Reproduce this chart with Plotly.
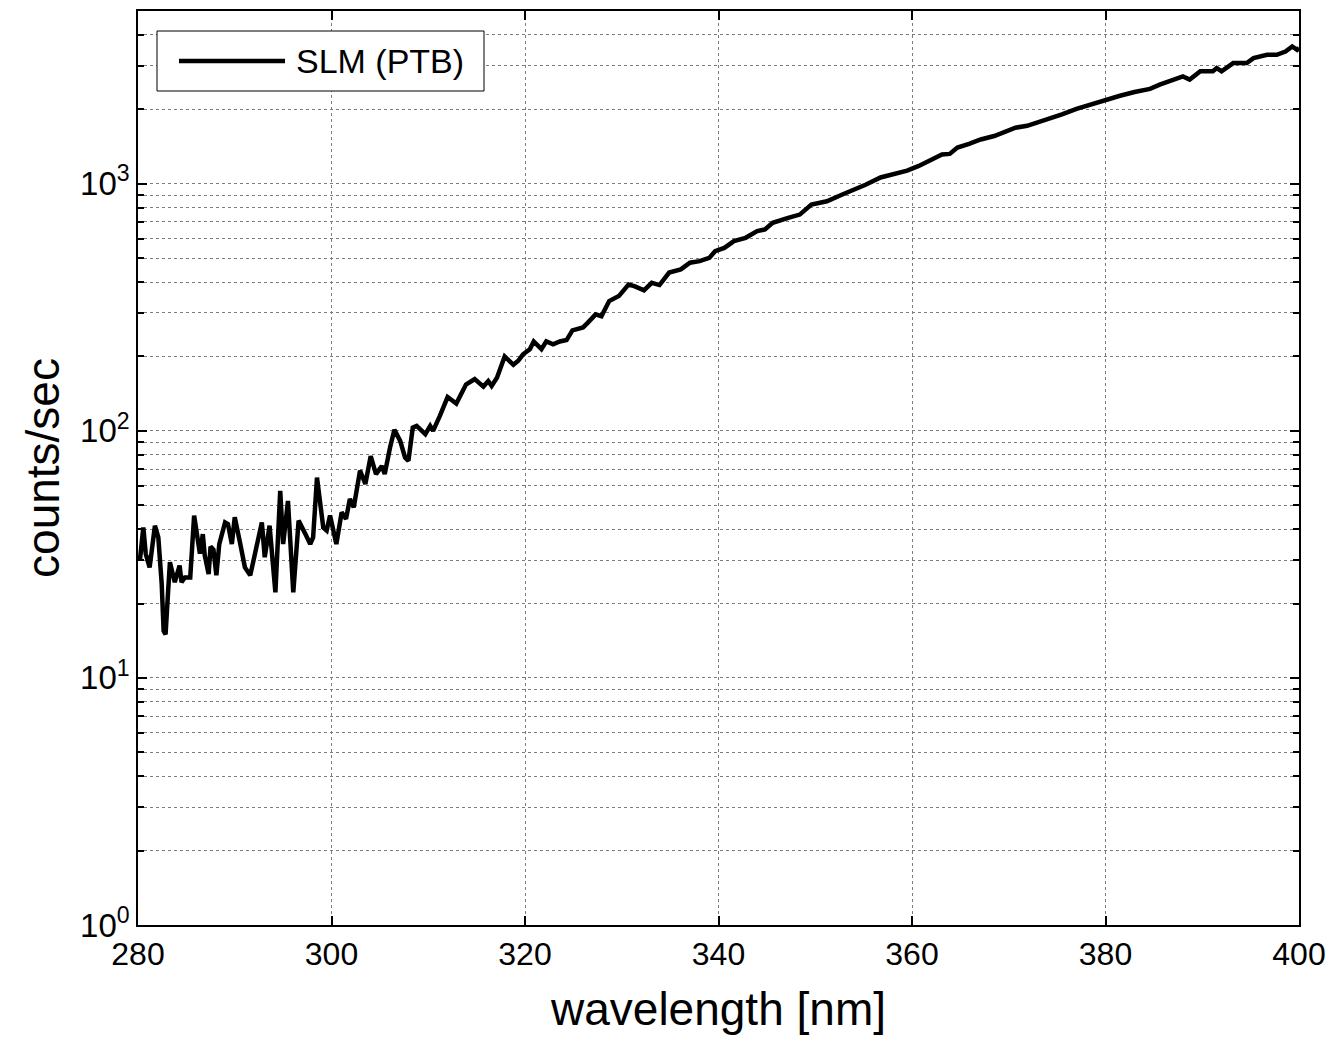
import plotly.graph_objects as go

# ---- data ----
wavelength_nm = [
    280.0, 280.2, 280.55, 280.8, 281.2, 281.75, 282.1, 282.45, 282.65, 282.85,
    283.1, 283.3, 283.8, 284.3, 284.5, 284.85, 285.4, 285.8, 286.4, 286.7,
    286.9, 287.3, 287.5, 287.8, 288.1, 288.4, 289.0, 289.3, 289.7, 290.0,
    290.5, 291.05, 291.6, 292.1, 292.8, 293.1, 293.6, 294.2, 294.7, 295.0,
    295.5, 296.05, 296.6, 297.3, 297.8, 298.1, 298.5, 299.15, 299.5, 299.85,
    300.5, 301.05, 301.5, 301.9, 302.3, 302.95, 303.5, 304.05, 304.6, 305.2,
    305.5, 306.05, 306.5, 307.1, 307.6, 307.95, 308.4, 308.8, 309.7, 310.2,
    310.5, 311.2, 312.0, 312.9, 313.9, 314.8, 315.7, 316.2, 316.55, 317.1,
    317.9, 318.8, 319.3, 319.8, 320.5, 320.9, 321.7, 322.2, 322.9, 323.6,
    324.3, 324.9, 326.0, 326.5, 327.3, 327.9, 328.7, 329.7, 330.7, 331.3,
    332.3, 333.1, 333.9, 334.9, 336.1, 337.05, 338.05, 339.05, 339.65, 340.6,
    341.6, 342.8, 344.0, 344.8, 345.6, 347.2, 348.4, 349.6, 351.2, 352.8,
    354.0, 355.2, 356.75, 358.3, 359.5, 360.7, 362.3, 363.1, 363.9, 364.7,
    365.9, 367.1, 368.5, 369.5, 370.7, 371.9, 373.7, 375.5, 377.0, 378.5,
    380.0, 381.5, 383.0, 384.6, 385.6, 386.6, 388.0, 388.7, 389.8, 391.1,
    391.5, 392.0, 392.7, 393.2, 394.6, 395.3, 396.7, 397.7, 398.6, 399.3,
    399.8, 400.0,
]
counts_per_sec = [
    31, 30, 40.6, 31.8, 28, 41.3, 37, 24, 15.5, 15,
    22, 29.4, 24.4, 28.5, 24.4, 25.5, 25.5, 45.4, 31.8, 38.2,
    31.3, 26.3, 34, 33, 26, 34.8, 42.6, 41.9, 34.8, 44.7,
    36, 28, 26, 31.8, 42.6, 30.8, 41.3, 22.2, 57.2, 34.8,
    52, 22.2, 43.3, 38.2, 34.8, 37, 64.7, 40.6, 39.5, 45.4,
    34.8, 46.8, 44, 53, 49, 69, 60.9, 79, 66.8, 72,
    66.8, 85.6, 101, 91, 78, 75.6, 103, 104.7, 97, 104.7,
    100, 115, 137, 129, 154, 162, 151, 159, 152, 164,
    200, 185, 192, 204, 214, 230, 214, 230, 224, 230,
    233, 255, 262, 274, 296, 291, 335, 351, 391, 385,
    370, 397, 389, 437, 450, 479, 486, 501, 533, 550,
    586, 604, 643, 653, 695, 728, 750, 824, 849, 904,
    945, 990, 1060, 1095, 1130, 1180, 1260, 1313, 1320, 1400,
    1450, 1510, 1560, 1610, 1685, 1715, 1800, 1910, 2010, 2100,
    2180, 2270, 2350, 2420, 2518, 2594, 2716, 2640, 2851, 2851,
    2938, 2851, 3000, 3077, 3077, 3224, 3326, 3326, 3428, 3594,
    3484, 3550,
]
series_name = "SLM (PTB)"
x_tick_values = [280, 300, 320, 340, 360, 380, 400]
y_tick_values = [1, 10, 100, 1000]
y_tick_labels = ["10<sup>0</sup>", "10<sup>1</sup>", "10<sup>2</sup>", "10<sup>3</sup>"]
y_minor_values = [m * 10 ** d for d in range(0, 4) for m in range(2, 10)]

FONT = "Liberation Sans, Arial, Helvetica, sans-serif"
W, H = 1331, 1038
L, R, T, B = 138, 32, 11, 113
PW, PH = W - L - R, H - T - B


def px_x(p):
    return (p - L) / PW


def px_y(p):
    return (H - B - p) / PH


fig = go.Figure()
fig.add_trace(go.Scatter(
    x=wavelength_nm, y=counts_per_sec, mode="lines", name=series_name,
    line=dict(color="black", width=4.5), showlegend=False,
))

grid_color = "#7c7c7c"
fig.update_xaxes(
    range=[280, 400], tickmode="array", tickvals=x_tick_values,
    ticks="inside", ticklen=9, tickwidth=1.5, tickcolor="black",
    showline=True, linecolor="black", linewidth=1.5, mirror="ticks",
    showgrid=True, gridcolor=grid_color, gridwidth=1, griddash="dot",
    zeroline=False, automargin=False,
    tickfont=dict(family=FONT, size=32, color="black"),
    title=dict(text="wavelength [nm]", font=dict(family=FONT, size=46, color="black"),
               standoff=22),
)
fig.update_yaxes(
    type="log", range=[0, 3.699], tickmode="array", tickvals=y_tick_values,
    ticktext=y_tick_labels,
    ticks="inside", ticklen=9, tickwidth=1.5, tickcolor="black",
    showline=True, linecolor="black", linewidth=1.5, mirror="ticks",
    showgrid=True, gridcolor=grid_color, gridwidth=1, griddash="dot",
    zeroline=False, automargin=False,
    tickfont=dict(family=FONT, size=33, color="black"),
    minor=dict(tickmode="array", tickvals=y_minor_values, ticks="inside",
               ticklen=6, tickwidth=1.5, tickcolor="black",
               showgrid=True, gridcolor=grid_color, gridwidth=1, griddash="dot"),
    title=dict(text="counts/sec", font=dict(family=FONT, size=46, color="black"),
               standoff=6),
)

# custom legend box (MATLAB style, long line sample)
fig.add_shape(type="rect", xref="paper", yref="paper",
              x0=px_x(157), x1=px_x(484), y0=px_y(91), y1=px_y(31),
              line=dict(color="black", width=1), fillcolor="white", layer="above")
fig.add_shape(type="line", xref="paper", yref="paper",
              x0=px_x(179), x1=px_x(285), y0=px_y(61), y1=px_y(61),
              line=dict(color="black", width=4.5), layer="above")
fig.add_annotation(xref="paper", yref="paper", x=px_x(294), y=px_y(61),
                   xanchor="left", yanchor="middle", showarrow=False,
                   text=series_name, font=dict(family=FONT, size=34, color="black"))

fig.update_layout(
    width=W, height=H,
    margin=dict(l=L, r=R, t=T, b=B),
    paper_bgcolor="white", plot_bgcolor="white",
    font=dict(family=FONT, color="black"),
)

fig.write_html("out.html")
